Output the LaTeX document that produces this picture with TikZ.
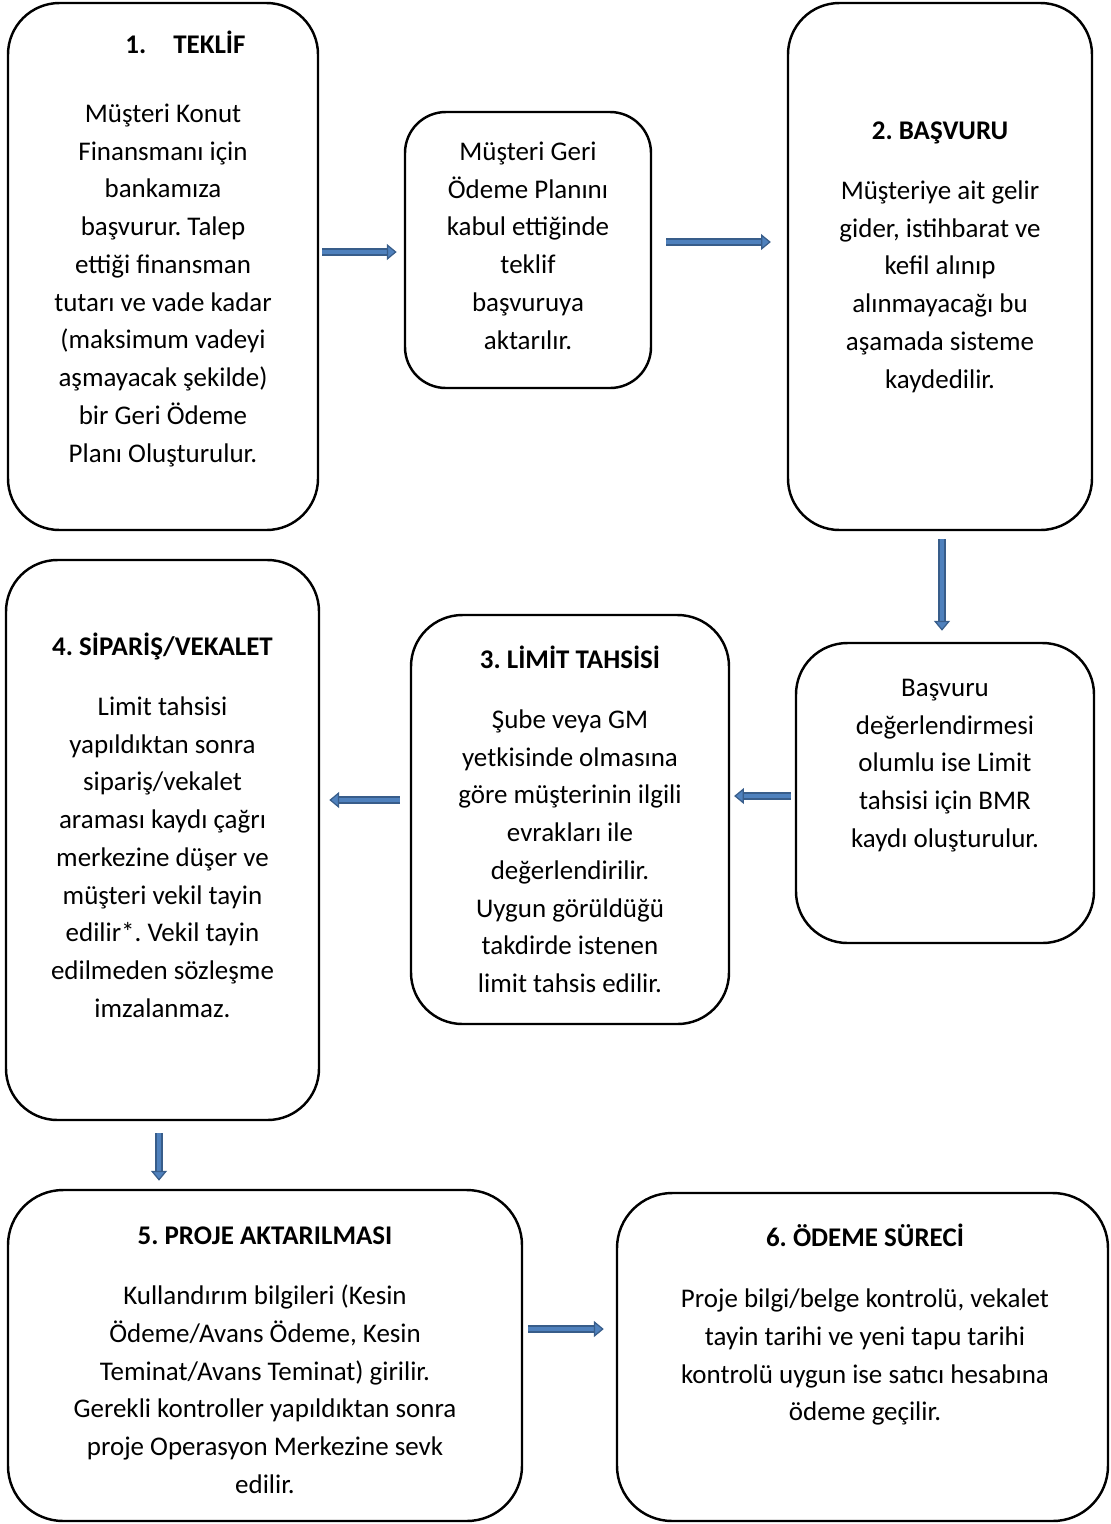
\documentclass[tikz,border=0pt]{standalone}
\usepackage{fontspec}
\setmainfont{Carlito}
\usetikzlibrary{arrows.meta}
\definecolor{arrowfill}{HTML}{4F81BD}
\definecolor{arrowedge}{HTML}{385D8A}
\newcommand{\pxu}{0.408pt}
\frenchspacing

\begin{document}
\begin{tikzpicture}[x=\pxu,y=-\pxu,
        stepbox/.style={draw,line width=1pt,rounded corners=21pt,inner sep=0pt},
        steptitle/.style={font=\fontsize{11pt}{15.4pt}\selectfont\bfseries,anchor=base,inner sep=0pt},
        steptext/.style={font=\fontsize{11pt}{15.4pt}\selectfont,align=center,anchor=north,inner sep=0pt,yshift=10.78pt},
        flowarrow/.style={draw=arrowedge,line width=0.5pt,double=arrowfill,double distance=1.9pt,
            -{Triangle[length=4pt,width=6.5pt,fill=arrowfill]}}]
    \useasboundingbox (0,0) rectangle (1111,1524);

    % boxes
    \node[stepbox,minimum width=310*\pxu,minimum height=527*\pxu] (teklif) at (163,266.5) {};
    \node[stepbox,rounded corners=16.7pt,minimum width=246*\pxu,minimum height=276*\pxu] (geri) at (528,250) {};
    \node[stepbox,minimum width=304*\pxu,minimum height=527*\pxu] (basvuru) at (940,266.5) {};
    \node[stepbox,minimum width=298*\pxu,minimum height=300*\pxu] (degerlendirme) at (945,793) {};
    \node[stepbox,minimum width=318*\pxu,minimum height=409*\pxu] (limit) at (570,819.5) {};
    \node[stepbox,minimum width=313*\pxu,minimum height=560*\pxu] (siparis) at (162.5,840) {};
    \node[stepbox,rounded corners=22.5pt,minimum width=514*\pxu,minimum height=331*\pxu] (proje) at (265,1355.5) {};
    \node[stepbox,rounded corners=22.5pt,minimum width=491*\pxu,minimum height=328*\pxu] (odeme) at (862.5,1357) {};

    % texts
    \node[steptitle,anchor=base west] (teklif-title) at (125,53) {1.\hspace{11pt}TEKLİF};
    \node[steptext] (teklif-text) at (163,122) {\strut Müşteri Konut\\Finansmanı için\\bankamıza\\başvurur. Talep\\ettiği finansman\\tutarı ve vade kadar\\(maksimum vadeyi\\aşmayacak şekilde)\\bir Geri Ödeme\\Planı Oluşturulur.};
    \node[steptext] (geri-text) at (528,160) {\strut Müşteri Geri\\Ödeme Planını\\kabul ettiğinde\\teklif\\başvuruya\\aktarılır.};
    \node[steptitle] (basvuru-title) at (940,139) {2. BAŞVURU};
    \node[steptext] (basvuru-text) at (940,199) {\strut Müşteriye ait gelir\\gider, istihbarat ve\\kefil alınıp\\alınmayacağı bu\\aşamada sisteme\\kaydedilir.};
    \node[steptext] (degerlendirme-text) at (945,696) {\strut Başvuru\\değerlendirmesi\\olumlu ise Limit\\tahsisi için BMR\\kaydı oluşturulur.};
    \node[steptitle] (limit-title) at (570,668) {3. LİMİT TAHSİSİ};
    \node[steptext] (limit-text) at (570,728) {\strut Şube veya GM\\yetkisinde olmasına\\göre müşterinin ilgili\\evrakları ile\\değerlendirilir.\\Uygun görüldüğü\\takdirde istenen\\limit tahsis edilir.};
    \node[steptitle] (siparis-title) at (162.5,655) {4. SİPARİŞ/VEKALET};
    \node[steptext] (siparis-text) at (162.5,715) {\strut Limit tahsisi\\yapıldıktan sonra\\sipariş/vekalet\\araması kaydı çağrı\\merkezine düşer ve\\müşteri vekil tayin\\edilir*. Vekil tayin\\edilmeden sözleşme\\imzalanmaz.};
    \node[steptitle] (proje-title) at (265,1244) {5. PROJE AKTARILMASI};
    \node[steptext] (proje-text) at (265,1304) {\strut Kullandırım bilgileri (Kesin\\Ödeme/Avans Ödeme, Kesin\\Teminat/Avans Teminat) girilir.\\Gerekli kontroller yapıldıktan sonra\\proje Operasyon Merkezine sevk\\edilir.};
    \node[steptitle] (odeme-title) at (865,1246) {6. ÖDEME SÜRECİ};
    \node[steptext] (odeme-text) at (865,1307) {\strut Proje bilgi/belge kontrolü, vekalet\\tayin tarihi ve yeni tapu tarihi\\kontrolü uygun ise satıcı hesabına\\ödeme geçilir.};

    % arrows
    \draw[flowarrow,shorten <=1.2pt,shorten >=2.9pt] (teklif.east |- 0,252) -- (geri.west |- 0,252);
    \draw[flowarrow,shorten <=5.7pt,shorten >=6.5pt] (geri.east |- 0,242) -- (basvuru.west |- 0,242);
    \draw[flowarrow,shorten <=3.3pt,shorten >=4.5pt] (basvuru.south -| 942,0) -- (degerlendirme.north -| 942,0);
    \draw[flowarrow,shorten <=1.6pt,shorten >=1.6pt] (degerlendirme.west |- 0,796) -- (limit.east |- 0,796);
    \draw[flowarrow,shorten <=4.1pt,shorten >=3.7pt] (limit.west |- 0,800) -- (siparis.east |- 0,800);
    \draw[flowarrow,shorten <=4.9pt,shorten >=3.3pt] (siparis.south -| 159,0) -- (proje.north -| 159,0);
    \draw[flowarrow,shorten <=2pt,shorten >=4.9pt] (proje.east |- 0,1329) -- (odeme.west |- 0,1329);
\end{tikzpicture}
\end{document}
